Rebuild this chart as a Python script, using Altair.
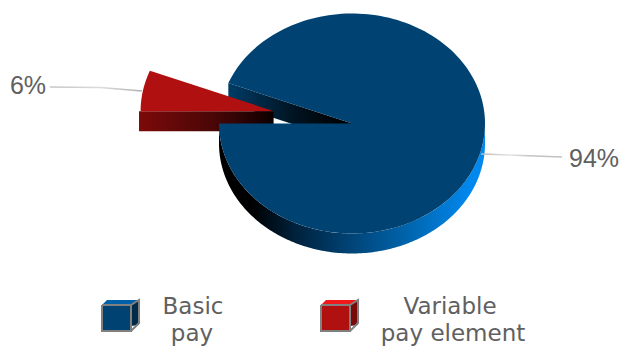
import math
import altair as alt
import pandas as pd

# Chart content
categories = ["Basic pay", "Variable pay element"]
shares = [94, 6]
share_labels = ["94%", "6%"]
legend_lines = [["Basic", "pay"], ["Variable", "pay element"]]

# Canvas and pie layout, in pixels
W, H = 623, 346
CX, CY, RX, RY, DEPTH = 352, 123.5, 133, 110, 20
EXPLODE = 0.6
START = 180.0

FACE = ["#004272", "#b01010"]
CUBE_TOP = ["#0060a8", "#f01818"]
CUBE_SIDE = ["#002a48", "#780a0a"]
INK = "#606060"

x_scale = alt.Scale(domain=[0, W], range=[0, W], nice=False, zero=False)
y_scale = alt.Scale(domain=[0, H], range=[0, H], nice=False, zero=False)


def gradient(stops):
    return alt.Gradient(
        gradient="linear", x1=0, x2=1, y1=0, y2=0,
        stops=[alt.GradientStop(offset=o, color=c) for o, c in stops],
    )


def ell(t, cx=CX, cy=CY, dy=0.0):
    r = math.radians(t)
    return cx + RX * math.cos(r), cy + RY * math.sin(r) + dy


def polygon(points, **mark):
    df = pd.DataFrame([{"i": i, "x": p[0], "y": p[1]} for i, p in enumerate(points)])
    mark.setdefault("strokeWidth", 0)
    return alt.Chart(df).mark_line(**mark).encode(
        x=alt.X("x:Q", scale=x_scale, axis=None),
        y=alt.Y("y:Q", scale=y_scale, axis=None),
        order="i:Q",
    )


# Angles follow the shares, sweeping counter-clockwise on screen from due west
big_end = START - shares[0] * 3.6
small_end = big_end - shares[1] * 3.6
arc_steps = 180

big_arc = [START + (big_end - START) * k / arc_steps for k in range(arc_steps + 1)]
big_face = [ell(t) for t in big_arc] + [(CX, CY)]

# The small slice is pulled out along its middle angle
mid = math.radians((big_end + small_end) / 2)
scx = CX + EXPLODE * RX * math.cos(mid)
scy = CY + EXPLODE * RY * math.sin(mid)
small_arc = [big_end + (small_end - big_end) * k / 40 for k in range(41)]
small_face = [ell(t, scx, scy) for t in small_arc] + [(scx, scy)]

# Cut wall of the large slice
p_end = ell(big_end)
big_wall = polygon(
    [p_end, (CX, CY), (CX, CY + DEPTH), (p_end[0], p_end[1] + DEPTH)],
    fill=gradient([(0, "#003c66"), (0.55, "#00121f"), (0.95, "#000000"), (1, "#000000")]),
)

# Cut wall of the small slice, with a slight lip past the top face
p_left = ell(small_end, scx, scy)
small_wall = (
    alt.Chart(pd.DataFrame({"x": [p_left[0] - 1.6, scx], "y": [scy, scy], "y2": [scy + DEPTH] * 2}))
    .mark_area(fill=gradient([(0, "#7c0a0a"), (0.55, "#4a0606"), (1, "#0c0000")]))
    .encode(
        x=alt.X("x:Q", scale=x_scale, axis=None),
        y=alt.Y("y:Q", scale=y_scale, axis=None),
        y2="y2:Q",
    )
)

# Outer rim of the large slice, along the front half of the ellipse
rim_df = pd.DataFrame(
    [
        {"x": ell(t)[0], "y": ell(t)[1], "y2": ell(t)[1] + DEPTH}
        for t in [180 - k for k in range(181)]
    ]
)
rim = (
    alt.Chart(rim_df)
    .mark_area(
        fill=gradient(
            [(0, "#000000"), (0.12, "#000000"), (0.28, "#00203a"), (0.47, "#004070"),
             (0.72, "#0066b0"), (0.94, "#0088ee"), (1, "#0088ee")]
        )
    )
    .encode(
        x=alt.X("x:Q", scale=x_scale, axis=None),
        y=alt.Y("y:Q", scale=y_scale, axis=None),
        y2="y2:Q",
    )
)

faces = [polygon(small_face, fill=FACE[1]), polygon(big_face, fill=FACE[0])]

# Leader lines from each slice to its percentage
leader_big = polygon(
    [(481, 154), (562, 157)],
    strokeWidth=1.5,
    stroke=gradient([(0, "#b8b8b8"), (0.35, "#e4e4e4"), (0.6, "#c4c4c4"), (1, "#c0c0c0")]),
)
leader_small = polygon(
    [(50, 87), (100, 87.5), (142, 91)],
    strokeWidth=1.5,
    stroke=gradient([(0, "#c4c4c4"), (0.55, "#dcdcdc"), (1, "#b0b0b0")]),
)

percent = (
    alt.Chart(pd.DataFrame({"t": share_labels, "x": [594, 28], "y": [158.5, 86]}))
    .mark_text(font="Liberation Sans", fontSize=25, color=INK, align="center", baseline="middle")
    .encode(
        x=alt.X("x:Q", scale=x_scale, axis=None),
        y=alt.Y("y:Q", scale=y_scale, axis=None),
        text="t:N",
    )
)

# Legend: a small cube and a two-line label per category
cubes = []
for left, top_c, side_c, face_c in zip([102, 321], CUBE_TOP, CUBE_SIDE, FACE):
    t, s, b = 305, 29, 26
    dx, dy = 8, 5
    cubes += [
        polygon([(left + s, t + b - dy), (left + s + dx, t + b - dy - 1), (left + s + dx, t - dy),
                 (left + s, t)], fill=side_c),
        polygon([(left, t), (left + dx - 3, t - dy), (left + s + dx, t - dy), (left + s, t)], fill=top_c),
        polygon([(left + s, t), (left + s + dx, t - dy), (left + s + dx, t + b - dy - 3),
                 (left + s, t + b)], strokeWidth=2, stroke="#808080"),
        polygon([(left, t), (left + s, t), (left + s, t + b), (left, t + b), (left, t)],
                fill=face_c, strokeWidth=2, stroke="#808080"),
    ]

legend_rows = []
for xs, lines in zip([[193, 192], [450, 453]], legend_lines):
    for cx, y, line in zip(xs, [307, 334], lines):
        legend_rows.append({"t": line, "x": cx, "y": y})
legend_text = (
    alt.Chart(pd.DataFrame(legend_rows))
    .mark_text(font="DejaVu Sans", fontSize=23, color=INK, align="center", baseline="middle")
    .encode(
        x=alt.X("x:Q", scale=x_scale, axis=None),
        y=alt.Y("y:Q", scale=y_scale, axis=None),
        text="t:N",
    )
)

chart = (
    alt.layer(big_wall, small_wall, faces[0], rim, faces[1], leader_big, leader_small,
              percent, *cubes, legend_text)
    .properties(width=W, height=H, padding=0, autosize=alt.AutoSizeParams(type="none"),
                background="white")
    .configure_view(stroke=None)
)

chart.save("out.html", embed_options={"renderer": "svg", "actions": False})
